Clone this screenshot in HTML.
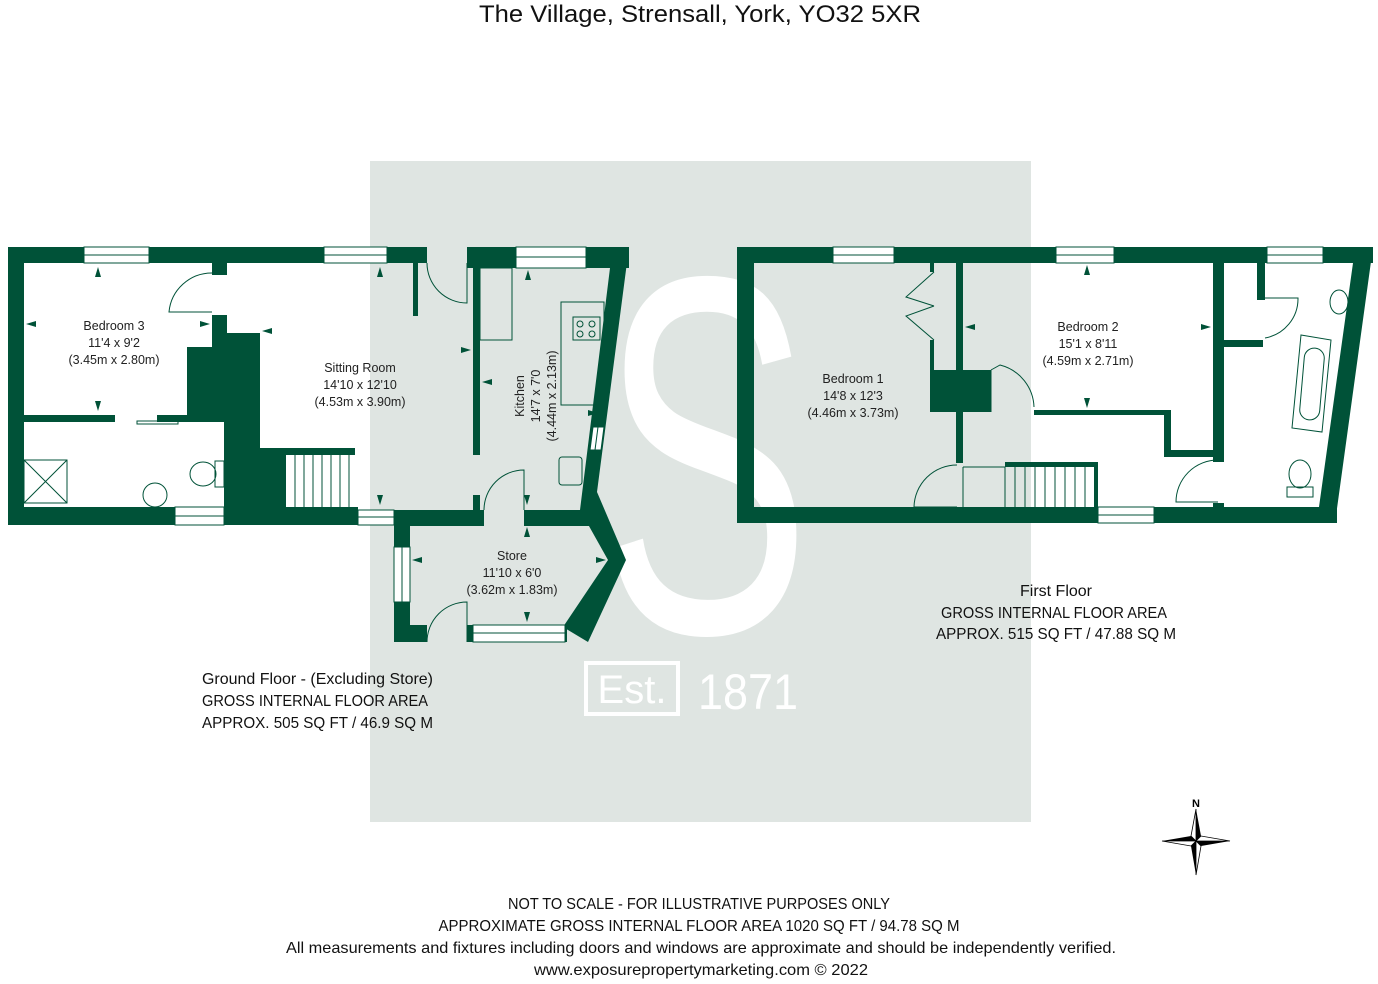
<!DOCTYPE html>
<html><head><meta charset="utf-8"><style>
html,body{margin:0;padding:0;background:#fff;}
svg{display:block;font-family:"Liberation Sans",sans-serif;}
</style></head><body>
<svg width="1378" height="984" viewBox="0 0 1378 984" xmlns="http://www.w3.org/2000/svg">
<rect x="370" y="161" width="661" height="661" fill="#dfe5e2"/>
<text x="0" y="0" transform="translate(600,632) scale(0.62,1)" font-size="510" fill="#fff">S</text>
<!-- Est 1871 -->
<rect x="586" y="663" width="92" height="51" fill="none" stroke="#fff" stroke-width="4"/>
<text x="632" y="703" font-size="40" fill="#fff" text-anchor="middle">Est.</text>
<text x="748" y="709" font-size="50" fill="#fff" text-anchor="middle" textLength="100" lengthAdjust="spacingAndGlyphs">1871</text>

<text x="700" y="22" font-size="24" fill="#111" text-anchor="middle" textLength="442" lengthAdjust="spacingAndGlyphs">The Village, Strensall, York, YO32 5XR</text>

<g fill="#005238">
<!-- GROUND FLOOR -->
<rect x="8" y="247" width="419" height="16"/>
<rect x="8" y="247" width="16" height="278"/>
<rect x="8" y="507" width="167" height="18"/>
<rect x="224" y="507" width="134" height="18"/>
<rect x="394" y="510" width="90" height="16"/>
<rect x="524" y="510" width="70" height="16"/>
<rect x="467" y="247" width="162" height="21"/>
<polygon points="629,247 597,492 626,560 588,642 563,627 608,560 580,510 610,268 600,247"/>
<rect x="394" y="525" width="16" height="117"/>
<rect x="394" y="625" width="33" height="17"/>
<rect x="467" y="625" width="100" height="17"/>
<rect x="212" y="263" width="15" height="12"/>
<polygon points="212,315 227,315 227,333 260,333 260,448 355,448 355,455 286,455 286,508 224,508 224,422 157,422 157,415 187,415 187,347 212,347"/>
<rect x="24" y="415" width="91" height="7"/>
<rect x="413" y="263" width="5" height="53"/>
<rect x="473" y="267" width="7" height="188"/>
<rect x="473" y="495" width="7" height="15"/>
<!-- FIRST FLOOR -->
<rect x="737" y="247" width="636" height="16"/>
<rect x="737" y="247" width="17" height="276"/>
<rect x="737" y="507" width="600" height="16"/>
<polygon points="1373,247 1335,523 1319,507 1353,263 1340,247"/>
<rect x="956" y="263" width="7" height="200"/>
<rect x="930" y="263" width="4" height="9"/>
<rect x="930" y="340" width="4" height="30"/>
<rect x="930" y="370" width="61" height="42"/>
<rect x="1034" y="410" width="133" height="5"/>
<rect x="1164" y="410" width="7" height="47"/>
<rect x="1164" y="450" width="54" height="7"/>
<rect x="1213" y="263" width="11" height="199"/>
<rect x="1213" y="503" width="11" height="4"/>
<rect x="1224" y="340" width="39" height="7"/>
<rect x="1257" y="263" width="8" height="37"/>
<rect x="1005" y="462" width="93" height="5"/>
<rect x="1094" y="462" width="4" height="45"/>
</g>

<!-- windows -->
<g fill="#fff" stroke="#005238" stroke-width="1">
<rect x="84" y="247" width="65" height="16"/><line x1="84" y1="255" x2="149" y2="255"/>
<rect x="324" y="247" width="63" height="16"/><line x1="324" y1="255" x2="387" y2="255"/>
<rect x="516" y="247" width="70" height="21"/><line x1="516" y1="257" x2="586" y2="257"/>
<rect x="175" y="507" width="49" height="18"/><line x1="175" y1="516" x2="224" y2="516"/>
<rect x="358" y="510" width="36" height="15"/><line x1="358" y1="517" x2="394" y2="517"/>
<rect x="394" y="547" width="16" height="55"/><line x1="402" y1="547" x2="402" y2="602"/>
<rect x="473" y="625" width="92" height="17"/><line x1="473" y1="633" x2="565" y2="633"/>
<polygon points="593,427 604,427 601,450 590,450"/><line x1="598" y1="427" x2="595" y2="450"/>
<rect x="833" y="247" width="61" height="16"/><line x1="833" y1="255" x2="894" y2="255"/>
<rect x="1056" y="247" width="58" height="16"/><line x1="1056" y1="255" x2="1114" y2="255"/>
<rect x="1267" y="247" width="56" height="16"/><line x1="1267" y1="255" x2="1323" y2="255"/>
<rect x="1098" y="507" width="56" height="16"/><line x1="1098" y1="515" x2="1154" y2="515"/>
</g>

<!-- fixtures / doors -->
<g fill="none" stroke="#005238" stroke-width="1">
<path d="M212,273 A43,43 0 0 0 169,312 L212,312"/>
<path d="M427,263 A40,40 0 0 0 467,303 L467,263"/>
<path d="M484,510 A40,40 0 0 1 524,470 L524,510"/>
<path d="M427,642 A40,40 0 0 1 467,602 L467,642"/>
<rect x="137" y="421" width="41" height="3"/>
<rect x="24" y="460" width="43" height="43"/><path d="M24,460 L67,503 M67,460 L24,503"/>
<rect x="215" y="461" width="9" height="26"/><ellipse cx="203" cy="474" rx="13" ry="12"/>
<circle cx="155" cy="495" r="12"/>
<rect x="561" y="302" width="43" height="103"/>
<rect x="573" y="317" width="27" height="23"/><circle cx="580" cy="324" r="3"/><circle cx="592" cy="324" r="3"/><circle cx="580" cy="334" r="3"/><circle cx="592" cy="334" r="3"/>
<rect x="559" y="457" width="23" height="28" rx="3"/>
<rect x="480" y="268" width="32" height="72"/>
<g>
<line x1="295" y1="455" x2="295" y2="507"/><line x1="304" y1="455" x2="304" y2="507"/><line x1="313" y1="455" x2="313" y2="507"/><line x1="322" y1="455" x2="322" y2="507"/><line x1="331" y1="455" x2="331" y2="507"/><line x1="340" y1="455" x2="340" y2="507"/><line x1="349" y1="455" x2="349" y2="507"/>
</g>
<path d="M934,272 L906,297 L934,306 M934,306 L906,316 L934,340"/>
<path d="M957,465 A43,43 0 0 0 914,507 L957,507"/>
<path d="M991,370 L1000,365 A45,45 0 0 1 1034,407"/>
<line x1="991" y1="370" x2="991" y2="412"/>
<path d="M1218,460 A42,42 0 0 0 1176,502 L1218,502"/>
<path d="M1263,298 L1298,298 A40,40 0 0 1 1265,338"/>
<line x1="963" y1="467" x2="1005" y2="467"/><line x1="963" y1="467" x2="963" y2="507"/>
<g>
<line x1="1005" y1="467" x2="1005" y2="507"/><line x1="1015" y1="467" x2="1015" y2="507"/><line x1="1025" y1="467" x2="1025" y2="507"/><line x1="1035" y1="467" x2="1035" y2="507"/><line x1="1045" y1="467" x2="1045" y2="507"/><line x1="1055" y1="467" x2="1055" y2="507"/><line x1="1065" y1="467" x2="1065" y2="507"/><line x1="1075" y1="467" x2="1075" y2="507"/><line x1="1085" y1="467" x2="1085" y2="507"/>
</g>
<polygon points="1301,335 1331,340 1322,432 1292,428"/>
<rect x="1302" y="348" width="20" height="72" rx="10" transform="rotate(5 1312 384)"/>
<ellipse cx="1300" cy="474" rx="11" ry="14"/><rect x="1287" y="487" width="26" height="10"/>
<ellipse cx="1339" cy="302" rx="9" ry="12"/>
</g>

<!-- arrows -->
<g fill="#005238">
<polygon points="98,267 95,277 101,277"/><polygon points="98,411 95,401 101,401"/>
<polygon points="26,324 36,321 36,327"/><polygon points="210,324 200,321 200,327"/>
<polygon points="380,267 377,277 383,277"/><polygon points="380,505 377,495 383,495"/>
<polygon points="262,331 272,328 272,334"/><polygon points="471,350 461,347 461,353"/>
<polygon points="482,382 492,379 492,385"/><polygon points="528,270 525,280 531,280"/>
<polygon points="598,413 588,410 588,416"/><polygon points="527,505 524,495 530,495"/>
<polygon points="527,527 524,537 530,537"/><polygon points="527,622 524,612 530,612"/>
<polygon points="412,560 422,557 422,563"/><polygon points="606,560 596,557 596,563"/>
<polygon points="1087,265 1084,275 1090,275"/><polygon points="1087,408 1084,398 1090,398"/>
<polygon points="965,327 975,324 975,330"/><polygon points="1211,327 1201,324 1201,330"/>
</g>

<g font-size="12.5" fill="#222" text-anchor="middle">
<text x="114" y="330">Bedroom 3</text><text x="114" y="347">11'4 x 9'2</text><text x="114" y="364">(3.45m x 2.80m)</text>
<text x="360" y="372">Sitting Room</text><text x="360" y="389">14'10 x 12'10</text><text x="360" y="406">(4.53m x 3.90m)</text>
<text x="512" y="560">Store</text><text x="512" y="577">11'10 x 6'0</text><text x="512" y="594">(3.62m x 1.83m)</text>
<g transform="translate(536,396) rotate(-90)"><text x="0" y="-12">Kitchen</text><text x="0" y="4">14'7 x 7'0</text><text x="0" y="20">(4.44m x 2.13m)</text></g>
<text x="853" y="383">Bedroom 1</text><text x="853" y="400">14'8 x 12'3</text><text x="853" y="417">(4.46m x 3.73m)</text>
<text x="1088" y="331">Bedroom 2</text><text x="1088" y="348">15'1 x 8'11</text><text x="1088" y="365">(4.59m x 2.71m)</text>
</g>

<g font-size="16" fill="#111">
<text x="202" y="684" textLength="231" lengthAdjust="spacingAndGlyphs">Ground Floor - (Excluding Store)</text>
<text x="202" y="706" textLength="226" lengthAdjust="spacingAndGlyphs">GROSS INTERNAL FLOOR AREA</text>
<text x="202" y="728" textLength="231" lengthAdjust="spacingAndGlyphs">APPROX. 505 SQ FT / 46.9 SQ M</text>
<text x="1056" y="596" text-anchor="middle" textLength="72" lengthAdjust="spacingAndGlyphs">First Floor</text>
<text x="1054" y="618" text-anchor="middle" textLength="226" lengthAdjust="spacingAndGlyphs">GROSS INTERNAL FLOOR AREA</text>
<text x="1056" y="639" text-anchor="middle" textLength="240" lengthAdjust="spacingAndGlyphs">APPROX. 515 SQ FT / 47.88 SQ M</text>
<g text-anchor="middle">
<text x="699" y="909" textLength="382" lengthAdjust="spacingAndGlyphs">NOT TO SCALE - FOR ILLUSTRATIVE PURPOSES ONLY</text>
<text x="699" y="931" textLength="521" lengthAdjust="spacingAndGlyphs">APPROXIMATE GROSS INTERNAL FLOOR AREA 1020 SQ FT / 94.78 SQ M</text>
<text x="701" y="953" textLength="830" lengthAdjust="spacingAndGlyphs">All measurements and fixtures including doors and windows are approximate and should be independently verified.</text>
<text x="701" y="975" textLength="334" lengthAdjust="spacingAndGlyphs">www.exposurepropertymarketing.com © 2022</text>
</g>
</g>

<!-- compass -->
<g transform="translate(1196,841)">
<text x="0" y="-34" font-size="11" font-weight="bold" text-anchor="middle" fill="#000">N</text>
<polygon points="0,-32 5,-5 0,0" fill="#000"/><polygon points="0,-32 -5,-5 0,0" fill="#fff" stroke="#000" stroke-width="0.8"/>
<polygon points="0,34 -5,5 0,0" fill="#000"/><polygon points="0,34 5,5 0,0" fill="#fff" stroke="#000" stroke-width="0.8"/>
<polygon points="34,0 5,5 0,0" fill="#000"/><polygon points="34,0 5,-5 0,0" fill="#fff" stroke="#000" stroke-width="0.8"/>
<polygon points="-34,0 -5,-5 0,0" fill="#000"/><polygon points="-34,0 -5,5 0,0" fill="#fff" stroke="#000" stroke-width="0.8"/>
</g>
</svg>
</body></html>
